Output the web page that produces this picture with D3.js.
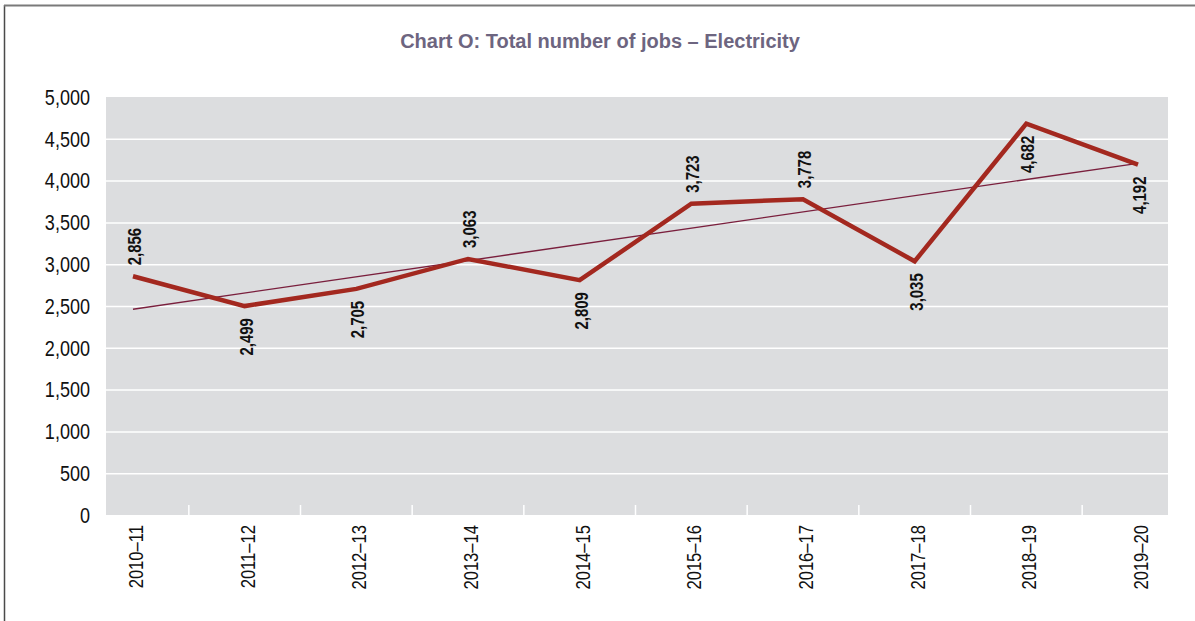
<!DOCTYPE html>
<html>
<head>
<meta charset="utf-8">
<script src="https://cdn.jsdelivr.net/npm/d3@7"></script>
<style>
  body { margin: 0; background: #fff; }
  svg { display: block; }
</style>
</head>
<body>
<svg id="chart" width="1195" height="621"></svg>
<script>
// chart data
const years = ["2010–11", "2011–12", "2012–13", "2013–14", "2014–15",
               "2015–16", "2016–17", "2017–18", "2018–19", "2019–20"];
const jobs = [2856, 2499, 2705, 3063, 2809, 3723, 3778, 3035, 4682, 4192];
const yTicks = [0, 500, 1000, 1500, 2000, 2500, 3000, 3500, 4000, 4500, 5000];
// label above (-1) or below (1) the point
const labelSide = [-1, 1, 1, -1, 1, -1, -1, 1, 1, 1];

const svg = d3.select("#chart");
const width = +svg.attr("width");
const height = +svg.attr("height");
const plot = { left: 106, right: 1168, top: 97, bottom: 515 };
const font = "'Liberation Sans', Arial, sans-serif";
const squeeze = 0.83; // no narrow font installed, so squash the regular one

// frame
svg.append("line")
  .attr("x1", 4.5).attr("y1", 5).attr("x2", 4.5).attr("y2", height)
  .attr("stroke", "#4a4a4a").attr("stroke-width", 1.5);
svg.append("line")
  .attr("x1", 4).attr("y1", 5.5).attr("x2", width).attr("y2", 5.5)
  .attr("stroke", "#7a7a7a").attr("stroke-width", 2);

// title
svg.append("text")
  .attr("x", 600)
  .attr("y", 48)
  .attr("text-anchor", "middle")
  .attr("font-family", font)
  .attr("font-size", "20px")
  .attr("font-weight", "bold")
  .attr("fill", "#6d6580")
  .text("Chart O: Total number of jobs – Electricity");

const x = d3.scalePoint()
  .domain(years)
  .range([133, 1138]);

const y = d3.scaleLinear()
  .domain([0, 5000])
  .range([plot.bottom, plot.top]);

// plot background
svg.append("rect")
  .attr("x", plot.left)
  .attr("y", plot.top)
  .attr("width", plot.right - plot.left)
  .attr("height", plot.bottom - plot.top)
  .attr("fill", "#dcdddf");

// grid lines
svg.append("g")
  .attr("class", "grid")
  .attr("transform", `translate(${plot.left},0)`)
  .call(d3.axisLeft(y).tickValues(yTicks.slice(1, -1))
    .tickSize(-(plot.right - plot.left)).tickFormat(""));
svg.selectAll(".grid line").attr("stroke", "#fff").attr("stroke-width", 1.5);
svg.selectAll(".grid path").remove();

// y axis labels
svg.selectAll(".ylab")
  .data(yTicks)
  .enter()
  .append("text")
  .attr("transform", d => `translate(${plot.left - 16},${y(d)}) scale(0.82,1)`)
  .attr("dy", "0.35em")
  .attr("text-anchor", "end")
  .attr("font-family", font)
  .attr("font-size", "22px")
  .attr("fill", "#111")
  .text(d => d3.format(",")(d));

// category separators at the bottom
const step = x.step();
svg.selectAll(".sep")
  .data(years.slice(1))
  .enter()
  .append("line")
  .attr("x1", d => x(d) - step / 2)
  .attr("x2", d => x(d) - step / 2)
  .attr("y1", plot.bottom - 10)
  .attr("y2", plot.bottom)
  .attr("stroke", "#fff")
  .attr("stroke-width", 1.5);

// x labels
svg.selectAll(".xlab")
  .data(years)
  .enter()
  .append("text")
  .attr("transform", d => `translate(${x(d) + 10},${plot.bottom + 10}) rotate(-90) scale(${squeeze},1)`)
  .attr("text-anchor", "end")
  .attr("font-family", font)
  .attr("font-size", "20px")
  .attr("fill", "#111")
  .text(d => d);

// linear trend (least squares)
const idx = jobs.map((d, i) => i);
const mx = d3.mean(idx), my = d3.mean(jobs);
const slope = d3.sum(idx, i => (i - mx) * (jobs[i] - my)) / d3.sum(idx, i => (i - mx) ** 2);
const icpt = my - slope * mx;
svg.append("line")
  .attr("x1", x(years[0]))
  .attr("y1", y(icpt))
  .attr("x2", x(years[years.length - 1]))
  .attr("y2", y(icpt + slope * (years.length - 1)))
  .attr("stroke", "#7a1f3d")
  .attr("stroke-width", 1.3);

// main line
const line = d3.line()
  .x((d, i) => x(years[i]))
  .y(d => y(d));
svg.append("path")
  .datum(jobs)
  .attr("d", line)
  .attr("fill", "none")
  .attr("stroke", "#a3281f")
  .attr("stroke-width", 4.5)
  .attr("stroke-linejoin", "miter");

// value labels
svg.selectAll(".val")
  .data(jobs)
  .enter()
  .append("text")
  .attr("transform", (d, i) => {
    const px = x(years[i]) + 8;
    const py = y(d) + (labelSide[i] < 0 ? -11 : 12);
    return `translate(${px},${py}) rotate(-90) scale(${squeeze},1)`;
  })
  .attr("text-anchor", (d, i) => labelSide[i] < 0 ? "start" : "end")
  .attr("font-family", font)
  .attr("font-size", "18px")
  .attr("font-weight", "bold")
  .attr("fill", "#111")
  .text(d => d3.format(",")(d));
</script>
</body>
</html>
